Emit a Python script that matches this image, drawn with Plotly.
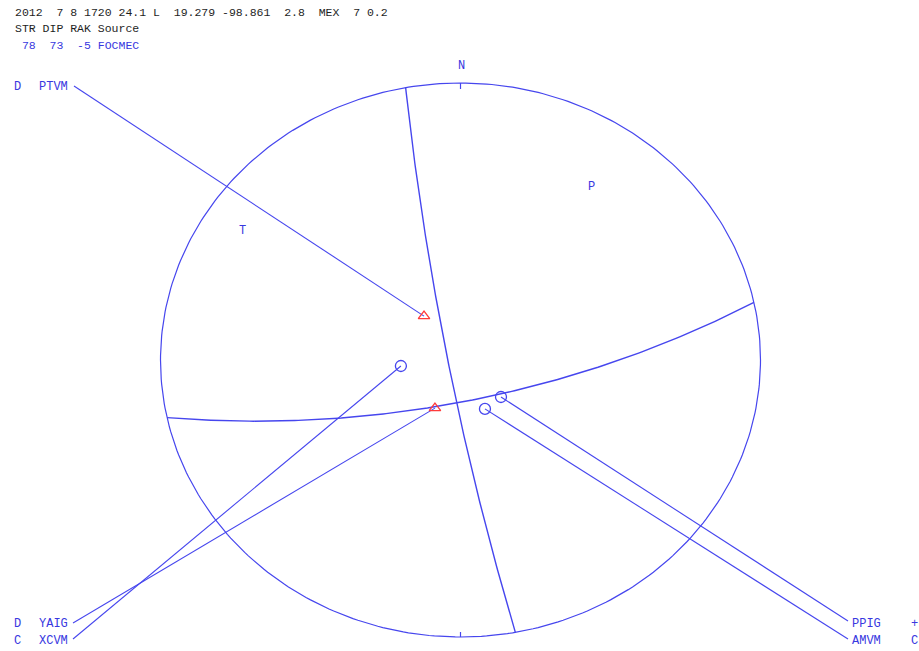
import numpy as np
import plotly.graph_objects as go

# Event header and focal mechanism solution
header = "2012  7 8 1720 24.1 L  19.279 -98.861  2.8  MEX  7 0.2"
sol_title = "STR DIP RAK Source"
strike, dip, rake = 78, 73, -5
source = "FOCMEC"

# Station first-motion polarities (azimuth in deg, incidence from downward vertical)
stations = ["PTVM", "YAIG", "XCVM", "PPIG", "AMVM"]
polarity = ["D", "D", "C", "+", "C"]
azimuth = [322.5, 206.1, 263.8, 134.7, 155.2]
incidence = [22.6, 21.9, 22.6, 21.5, 22.0]

# ---- canvas geometry (pixels) ----
W, H = 919, 651
CX, CY, RX, RY = 460.5, 360.0, 300.0, 277.0
xr = [-CX / RX, (W - CX) / RX]
yr = [-(H - CY) / RY, CY / RY]

BLUE = "#4646ee"
TXT_BLUE = "#3838e0"
RED = "#ff3b3b"
FONT = "Liberation Mono"


def px(xp, yp):
    """pixel position -> data coordinates"""
    return (xp - CX) / RX, (CY - yp) / RY


def stereo(n, e, d):
    """lower-hemisphere stereographic projection of a unit vector (N, E, Down)"""
    return e / (1.0 + d), n / (1.0 + d)


def plane_curve(stk, dp, npts=181):
    s, dd = np.radians(stk), np.radians(dp)
    t = np.linspace(0, np.pi, npts)
    sv = np.array([np.cos(s), np.sin(s), 0.0])
    dv = np.array([-np.sin(s) * np.cos(dd), np.cos(s) * np.cos(dd), np.sin(dd)])
    v = np.outer(np.cos(t), sv) + np.outer(np.sin(t), dv)
    return stereo(v[:, 0], v[:, 1], v[:, 2])


def aux_plane(stk, dp, rk):
    s, dd, r = np.radians([stk, dp, rk])
    u = np.array([np.cos(r) * np.cos(s) + np.cos(dd) * np.sin(r) * np.sin(s),
                  np.cos(r) * np.sin(s) - np.cos(dd) * np.sin(r) * np.cos(s),
                  -np.sin(r) * np.sin(dd)])
    if u[2] > 0:
        u = -u
    dp2 = np.degrees(np.arccos(-u[2]))
    stk2 = np.degrees(np.arctan2(-u[0], u[1])) % 360
    return stk2, dp2


def pt_axes(stk, dp, rk):
    s, dd, r = np.radians([stk, dp, rk])
    n = np.array([-np.sin(dd) * np.sin(s), np.sin(dd) * np.cos(s), -np.cos(dd)])
    u = np.array([np.cos(r) * np.cos(s) + np.cos(dd) * np.sin(r) * np.sin(s),
                  np.cos(r) * np.sin(s) - np.cos(dd) * np.sin(r) * np.cos(s),
                  -np.sin(r) * np.sin(dd)])
    out = []
    for v in (n + u, n - u):
        v = v / np.linalg.norm(v)
        if v[2] < 0:
            v = -v
        out.append(stereo(*v))
    return out  # T, P


fig = go.Figure()

# focal sphere outline
th = np.linspace(0, 2 * np.pi, 361)
fig.add_trace(go.Scatter(x=np.cos(th), y=np.sin(th), mode="lines",
                         line=dict(color=BLUE, width=1.2), hoverinfo="skip"))
# N / S ticks
for y0, y1 in [(1.0, 1.0 - 6 / RY), (-1.0, -1.0 + 5 / RY)]:
    fig.add_trace(go.Scatter(x=[0, 0], y=[y0, y1], mode="lines",
                             line=dict(color=BLUE, width=1.2), hoverinfo="skip"))

# nodal planes
s2, d2 = aux_plane(strike, dip, rake)
for stk, dp in [(strike, dip), (s2, d2)]:
    x, y = plane_curve(stk, dp)
    fig.add_trace(go.Scatter(x=x, y=y, mode="lines",
                             line=dict(color=BLUE, width=1.4), hoverinfo="skip"))

# station label slots (pixel anchors of the leader lines and text)
left_slots = {"top": (74, 86, 87), "b1": (73, 623, 624), "b2": (73, 639, 641)}
right_slots = {"b1": (848, 621, 624), "b2": (848, 639, 641)}
slot_of = [("L", "top"), ("L", "b1"), ("L", "b2"), ("R", "b1"), ("R", "b2")]

annotations = []
for name, pol, az, inc, (side, key) in zip(stations, polarity, azimuth, incidence, slot_of):
    r = np.tan(np.radians(inc) / 2)
    sx, sy = r * np.sin(np.radians(az)), r * np.cos(np.radians(az))
    if side == "L":
        lx, ly, ty = left_slots[key]
        annotations.append(dict(x=12 / W, y=1 - ty / H, text=pol, xanchor="left"))
        annotations.append(dict(x=37 / W, y=1 - ty / H, text=name, xanchor="left"))
    else:
        lx, ly, ty = right_slots[key]
        annotations.append(dict(x=850 / W, y=1 - ty / H, text=name, xanchor="left"))
        annotations.append(dict(x=909 / W, y=1 - ty / H, text=pol, xanchor="left"))
    ax_, ay_ = px(lx, ly)
    fig.add_trace(go.Scatter(x=[ax_, sx], y=[ay_, sy], mode="lines",
                             line=dict(color=BLUE, width=1.1), hoverinfo="skip"))
    if pol == "D":
        mk = dict(symbol="triangle-up-open", size=10, color=RED, line=dict(width=1.3, color=RED))
    else:
        mk = dict(symbol="circle-open", size=11, color=BLUE, line=dict(width=1.3, color=BLUE))
    fig.add_trace(go.Scatter(x=[sx], y=[sy], mode="markers", marker=mk, hoverinfo="skip"))

for a in annotations:
    a.update(xref="paper", yref="paper", yanchor="middle", showarrow=False,
             font=dict(family=FONT, size=12, color=TXT_BLUE))

# T and P axes
(tx, ty_), (pxx, pyy) = pt_axes(strike, dip, rake)
for lbl, x, y in [("T", tx, ty_), ("P", pxx, pyy)]:
    annotations.append(dict(x=x, y=y, xref="x", yref="y", text=lbl, showarrow=False,
                            font=dict(family=FONT, size=12, color=TXT_BLUE)))

# north label
annotations.append(dict(x=0.003, y=1.0 + 17 / RY, xref="x", yref="y", text="N", showarrow=False,
                        font=dict(family=FONT, size=12, color=TXT_BLUE)))

# header text
sol_line = f"{strike:3d} {dip:3d} {rake:3d} {source}"
for txt, yp, col in [(header, 12, "#1e1e1e"), (sol_title, 29, "#1e1e1e"), (sol_line, 45, TXT_BLUE)]:
    annotations.append(dict(x=13 / W, y=1 - yp / H, xref="paper", yref="paper", text=txt.replace(" ", "&nbsp;"),
                            xanchor="left", yanchor="middle", showarrow=False,
                            font=dict(family=FONT, size=11.5, color=col)))

fig.update_layout(
    width=W, height=H, margin=dict(l=0, r=0, t=0, b=0),
    paper_bgcolor="white", plot_bgcolor="white", showlegend=False,
    xaxis=dict(range=xr, visible=False, fixedrange=True),
    yaxis=dict(range=yr, visible=False, fixedrange=True),
    annotations=annotations,
)

fig.write_html("out.html")
